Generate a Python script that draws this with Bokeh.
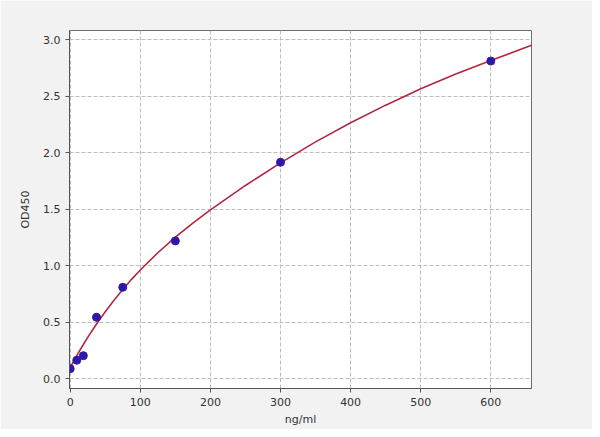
from bokeh.plotting import figure
from bokeh.models import Range1d, FixedTicker, PrintfTickFormatter
from bokeh.embed import file_html
from bokeh.resources import INLINE

# Standard points
conc = [0, 9.375, 18.75, 37.5, 75, 150, 300, 600]
od = [0.09, 0.165, 0.205, 0.545, 0.81, 1.22, 1.915, 2.81]

# Fitted curve
curve_x = [0, 5, 10, 20, 30, 40, 50, 62.5, 75, 87.5, 100, 125, 150, 175, 200,
           250, 300, 350, 400, 450, 500, 550, 600, 658]
curve_y = [0.10, 0.157, 0.212, 0.317, 0.415, 0.507, 0.594, 0.696, 0.791, 0.880,
           0.963, 1.115, 1.253, 1.378, 1.495, 1.710, 1.910, 2.095, 2.265, 2.420,
           2.565, 2.695, 2.815, 2.949]

x_ticks = [0, 100, 200, 300, 400, 500, 600]
y_ticks = [0.0, 0.5, 1.0, 1.5, 2.0, 2.5, 3.0]

p = figure(width=592, height=429, output_backend="svg", toolbar_location=None,
           x_range=Range1d(-1, 658), y_range=Range1d(-0.085, 3.08),
           min_border_left=69, min_border_right=61, min_border_top=30,
           min_border_bottom=41)

p.background_fill_color = "white"
p.border_fill_color = "#f2f2f2"
p.outline_line_color = "#6e6e6e"
p.outline_line_width = 1

for ax in (p.xaxis[0], p.yaxis[0]):
    ax.axis_line_color = "#555555"
    ax.major_tick_line_color = "#555555"
    ax.major_tick_out = 4
    ax.major_tick_in = 0
    ax.minor_tick_line_color = None
    ax.major_label_text_font = "DejaVu Sans"
    ax.major_label_text_font_size = "11px"
    ax.major_label_text_color = "#333333"
    ax.axis_label_text_font = "DejaVu Sans"
    ax.axis_label_text_font_size = "11px"
    ax.axis_label_text_font_style = "normal"
    ax.axis_label_text_color = "#333333"

p.xaxis.ticker = FixedTicker(ticks=x_ticks)
p.yaxis.ticker = FixedTicker(ticks=y_ticks)
p.yaxis.formatter = PrintfTickFormatter(format="%.1f")
p.xaxis.axis_label = "ng/ml"
p.yaxis.axis_label = "OD450"
p.xaxis.axis_label_standoff = 4
p.yaxis.axis_label_standoff = 8

p.grid.grid_line_color = "#bdbdbd"
p.grid.grid_line_dash = "4 2"
p.grid.grid_line_width = 1

p.line(curve_x, curve_y, line_color="#b0283f", line_width=1.6)
p.scatter(conc, od, size=8, fill_color="#2a18b0", line_color="#3a1a90", line_width=1)

open("out.html", "w").write(file_html(p, INLINE))
